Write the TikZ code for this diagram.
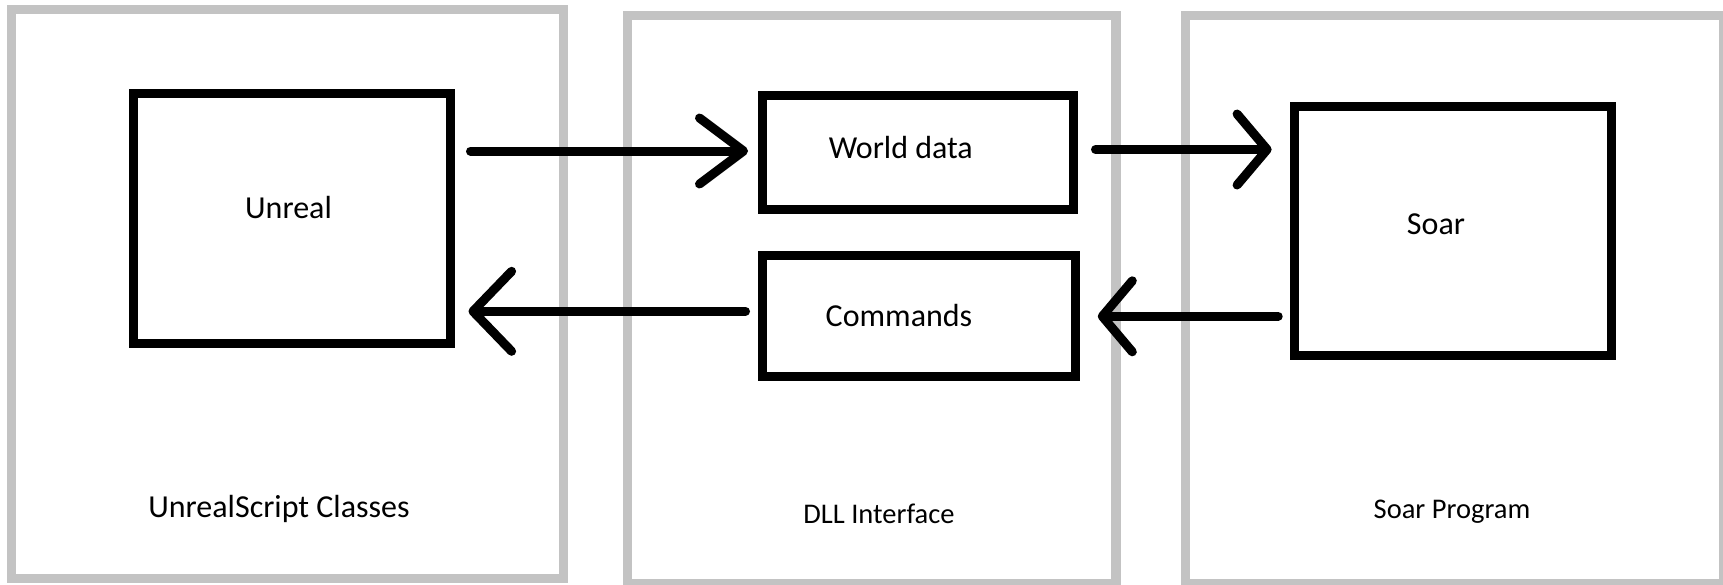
\documentclass[tikz,border=0pt]{standalone}
\usepackage{fontspec}
\setmainfont{Carlito}
\usetikzlibrary{arrows.meta}
\definecolor{framegray}{RGB}{195,195,195}
\tikzset{
  frame/.style={draw=framegray, line width=4.65pt, inner sep=0pt, outer sep=0pt},
  blackbox/.style={draw=black, line width=4.5pt, inner sep=0pt, fill=none},
  boxtext/.style={anchor=base, inner sep=0pt, font=\fontsize{16}{19}\selectfont},
  frametext/.style={anchor=base, inner sep=0pt, font=\fontsize{14.25}{17}\selectfont},
  conn/.style 2 args={line width=4.5pt, line cap=round,
    -{Straight Barb[length=#1, width=#2, round]}}
}
\begin{document}
\begin{tikzpicture}[x=0.5pt, y=-0.5pt]
\useasboundingbox (0,0) rectangle (1723,584);
% container frames
\node[frame, minimum width=276.25pt, minimum height=284.4pt] (fleft) at (287.55,294.1) {};
\node[frame, minimum width=244.25pt, minimum height=284.35pt] (fmid) at (871.75,299.65) {};
\node[frame, minimum width=269pt, minimum height=284.35pt] (fright) at (1454.5,299.65) {};
% boxes
\node[blackbox, minimum width=158.5pt, minimum height=125pt] (unreal) at (291.5,218) {};
\node[blackbox, minimum width=155.5pt, minimum height=57pt] (wd) at (917.5,152.5) {};
\node[blackbox, minimum width=156.5pt, minimum height=60.5pt] (cmd) at (918.5,316.3) {};
\node[blackbox, minimum width=158.25pt, minimum height=124.5pt] (soar) at (1452.75,230.5) {};
% labels
\node[boxtext] (unrealtxt) at (288.5,218.6) {Unreal};
\node[boxtext] (wdtxt) at (900.8,158.3) {World data};
\node[boxtext] (cmdtxt) at (899,326) {Commands};
\node[boxtext] (soartxt) at (1436,234.6) {Soar};
\node[boxtext] (flefttxt) at (279,517.7) {UnrealScript Classes};
\node[frametext] (fmidtxt) at (879,523) {DLL Interface};
\node[frametext] (frighttxt) at (1452,518) {Soar Program};
% connectors
\draw[conn={22pt}{33pt}] ([xshift=8pt,yshift=0.75pt]unreal.east |- wd.west) -- ([xshift=-4.75pt,yshift=0.75pt]wd.west);
\draw[conn={19.3pt}{40pt}] ([xshift=-6pt,yshift=2.5pt]cmd.west) -- ([xshift=7pt,yshift=2.5pt]unreal.east |- cmd.west);
\draw[conn={15pt}{35.5pt}] ([xshift=9pt,yshift=1.5pt]wd.east) -- ([xshift=-9.2pt,yshift=1.5pt]soar.west |- wd.east);
\draw[conn={15pt}{35.5pt}] ([xshift=-5.9pt]soar.west |- cmd.east) -- ([xshift=9.15pt]cmd.east);
\end{tikzpicture}
\end{document}
